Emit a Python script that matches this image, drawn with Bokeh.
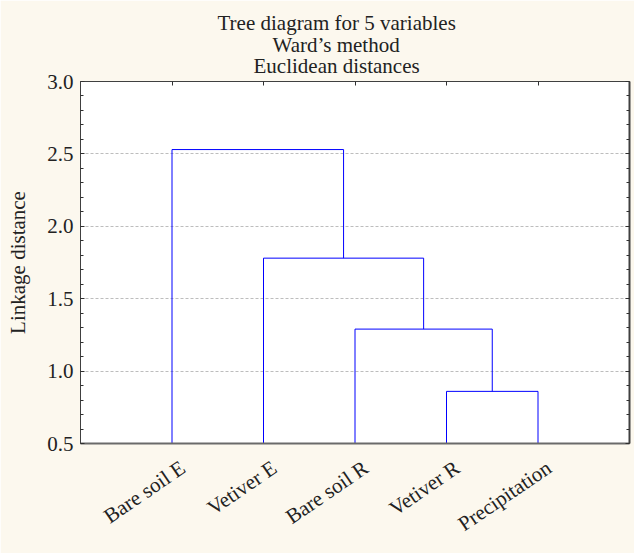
from bokeh.plotting import figure
from bokeh.models import (Range1d, LinearAxis, FixedTicker, SingleIntervalTicker,
                          PrintfTickFormatter, CustomJSTickFormatter, Title,
                          ColumnDataSource)
from bokeh.embed import file_html
from bokeh.resources import INLINE

# ---- data ----
leaf_labels = ["Bare soil E", "Vetiver E", "Bare soil R", "Vetiver R", "Precipitation"]
leaf_pos = [1, 2, 3, 4, 5]
# merges: (left node, right node, linkage distance); nodes 0-4 leaves, 5+ clusters
merge_left = [3, 2, 1, 0]
merge_right = [4, 5, 6, 7]
merge_height = [0.86, 1.29, 1.78, 2.53]
y_ticks = [0.5, 1.0, 1.5, 2.0, 2.5, 3.0]
title_lines = ["Tree diagram for 5 variables", "Ward\u2019s method", "Euclidean distances"]
title_offsets = [137, 192, 173]   # px from frame left (centres the lines at x~337)
title_standoffs = [10, -18, 8]

FONT = "Liberation Serif"
BEIGE = "#FCF8EE"
TXT = "#222222"
LABEL_SHIFT = 0.12   # rotated labels end slightly right of their leaf

# build dendrogram U-links
base = y_ticks[0]
node_x = list(leaf_pos)
node_h = [base] * len(leaf_pos)
xs, ys = [], []
for l, r, h in zip(merge_left, merge_right, merge_height):
    xs.append([node_x[l], node_x[l], node_x[r], node_x[r]])
    ys.append([node_h[l], h, h, node_h[r]])
    node_x.append((node_x[l] + node_x[r]) / 2)
    node_h.append(h)

p = figure(width=634, height=553, output_backend="svg", toolbar_location=None,
           x_range=Range1d(0, 6), y_range=Range1d(0.5, 3.0),
           x_axis_location=None, y_axis_location=None,
           min_border_left=80, min_border_right=5, min_border_top=81, min_border_bottom=110)
p.border_fill_color = BEIGE
p.background_fill_color = "white"
p.outline_line_color = None
p.xgrid.visible = False

blank = CustomJSTickFormatter(code="return ''")
left = LinearAxis(ticker=SingleIntervalTicker(interval=0.5, num_minor_ticks=5),
                  formatter=PrintfTickFormatter(format="%.1f"),
                  axis_label="Linkage distance")
right = LinearAxis(ticker=SingleIntervalTicker(interval=0.5, num_minor_ticks=5),
                   formatter=blank)
top = LinearAxis(ticker=FixedTicker(ticks=leaf_pos), formatter=blank)
bottom = LinearAxis(ticker=FixedTicker(ticks=[x + LABEL_SHIFT for x in leaf_pos]),
                    formatter=CustomJSTickFormatter(args=dict(labels=leaf_labels),
                                                    code="return labels[index]"),
                    major_label_orientation=0.6)

for ax in (left, right, top, bottom):
    ax.major_tick_in = 4
    ax.major_tick_out = 0
    ax.minor_tick_in = 3
    ax.minor_tick_out = 0
    ax.major_label_text_font = FONT
    ax.major_label_text_color = TXT
    ax.axis_line_color = "#404040"
    ax.major_tick_line_color = "#303030"
    ax.minor_tick_line_color = "#303030"
for ax in (right, top):
    ax.major_label_standoff = 0
left.major_label_text_font_size = "21px"
left.major_label_standoff = 7
left.axis_label_text_font = FONT
left.axis_label_text_font_size = "21px"
left.axis_label_text_font_style = "normal"
left.axis_label_text_color = TXT
left.axis_label_standoff = 14
top.minor_tick_line_color = None
bottom.major_tick_line_color = None
bottom.minor_tick_line_color = None
bottom.major_label_text_font_size = "21px"
bottom.major_label_standoff = 22
right.axis_line_width = 2
bottom.axis_line_width = 2
bottom.axis_line_color = "#6a6a6a"

p.add_layout(left, "left")
p.add_layout(right, "right")
p.add_layout(top, "above")
p.add_layout(bottom, "below")

p.ygrid.ticker = FixedTicker(ticks=y_ticks)
p.ygrid.grid_line_color = "#bdbdbd"
p.ygrid.grid_line_dash = "3 2"
p.ygrid.grid_line_width = 1

# three-line title: later-added titles sit further from the plot
for t, off, so in reversed(list(zip(title_lines, title_offsets, title_standoffs))):
    p.add_layout(Title(text=t, align="left", offset=off, text_font=FONT,
                       text_font_size="21px", text_font_style="normal",
                       text_color=TXT, standoff=so), "above")

src = ColumnDataSource(dict(xs=xs, ys=ys))
p.multi_line(xs="xs", ys="ys", source=src, line_color="#0000FF", line_width=1)

open("out.html", "w").write(file_html(p, INLINE))
